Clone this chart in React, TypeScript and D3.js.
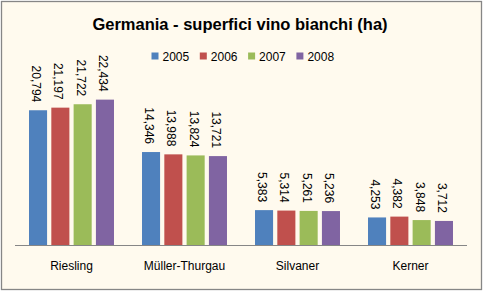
import React from "react";
import * as d3 from "d3";

const categories = ["Riesling", "Müller-Thurgau", "Silvaner", "Kerner"];
const years = ["2005", "2006", "2007", "2008"];
const v2005 = [20794, 14346, 5383, 4253];
const v2006 = [21197, 13988, 5314, 4382];
const v2007 = [21722, 13824, 5261, 3848];
const v2008 = [22434, 13721, 5236, 3712];
const seriesValues = [v2005, v2006, v2007, v2008];
const colors = ["#4F81BD", "#C0504D", "#9BBB59", "#8064A2"];
const title = "Germania - superfici vino bianchi (ha)";

const W = 483;
const H = 291;
const FONT = "'Liberation Sans', Arial, sans-serif";

export default function App() {
  const x0 = d3
    .scaleBand<string>()
    .domain(categories)
    .range([15, 467])
    .paddingInner(0.248)
    .paddingOuter(0.124);
  const x1 = d3
    .scaleBand<string>()
    .domain(years)
    .range([0, x0.bandwidth()])
    .paddingInner(0.19)
    .paddingOuter(0);
  const y = d3.scaleLinear().domain([0, 25000]).range([245, 83]);
  const fmt = d3.format(",");

  return (
    <svg
      width={W}
      height={H}
      style={{ position: "absolute", left: 0, top: 0 }}
      fontFamily={FONT}
    >
      <rect x={1.5} y={1.5} width={W - 3} height={H - 3} fill="#FFFAEE" stroke="#868686" strokeWidth={1.3} />
      <text x={240} y={30} textAnchor="middle" fontSize={16.5} fontWeight="bold" fill="#000">
        {title}
      </text>
      {years.map((yr, i) => (
        <g key={yr} transform={`translate(${151.5 + i * 48.3},0)`}>
          <rect x={0} y={52.5} width={7} height={7} fill={colors[i]} />
          <text x={11} y={60.5} fontSize={12} fill="#000">
            {yr}
          </text>
        </g>
      ))}
      {categories.map((c, ci) => (
        <g key={c} transform={`translate(${x0(c)},0)`}>
          {years.map((yr, si) => {
            const v = seriesValues[si][ci];
            const bx = x1(yr)!;
            const top = y(v);
            const cx = bx + x1.bandwidth() / 2;
            return (
              <g key={yr}>
                <rect x={bx} y={top} width={x1.bandwidth()} height={y(0) - top} fill={colors[si]} />
                <text
                  transform={`translate(${cx},${top - 8}) rotate(90)`}
                  textAnchor="end"
                  dy="0.5em"
                  fontSize={12}
                  fill="#000"
                >
                  {fmt(v)}
                </text>
              </g>
            );
          })}
          <text x={x0.bandwidth() / 2} y={270} textAnchor="middle" fontSize={12} fill="#000">
            {c}
          </text>
        </g>
      ))}
      <line x1={15} x2={467} y1={245.5} y2={245.5} stroke="#868686" strokeWidth={1} />
    </svg>
  );
}
